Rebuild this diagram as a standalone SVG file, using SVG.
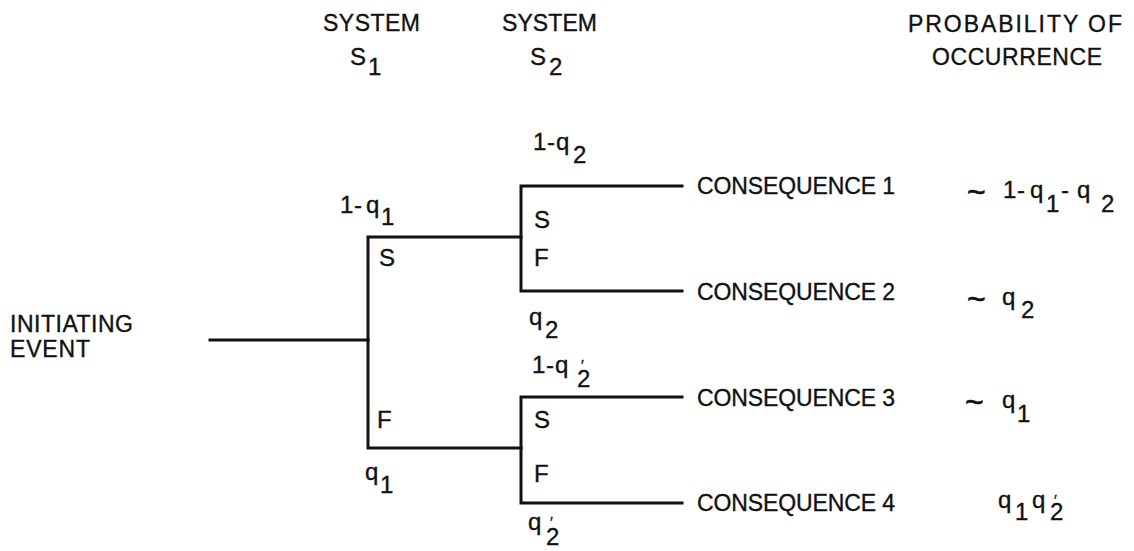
<svg xmlns="http://www.w3.org/2000/svg" width="1134" height="551" viewBox="0 0 1134 551">
  <style>
    .t { font-family: "Liberation Sans", Arial, sans-serif; font-size: 23px; fill: #111; stroke: #111; stroke-width: 0.35; }
    .m { font-size: 24px; }
    .hd { font-size: 24px; }
    .tl { font-family: "Liberation Sans", Arial, sans-serif; font-size: 32px; fill: #111; stroke: #111; stroke-width: 0.6; }
    .pr { font-size: 15px; }
    .ln { stroke: #111; stroke-width: 3; fill: none; stroke-linecap: square; stroke-linejoin: miter; }
  </style>
  <rect width="1134" height="551" fill="#fff"/>

  <!-- column headings -->
  <g id="header-s1">
    <text class="t" x="323" y="31" textLength="97" lengthAdjust="spacing">SYSTEM</text>
    <text class="t hd" x="350" y="65">S<tspan x="368" dy="10">1</tspan></text>
  </g>
  <g id="header-s2">
    <text class="t" x="502" y="31" textLength="95" lengthAdjust="spacing">SYSTEM</text>
    <text class="t hd" x="530" y="65">S<tspan x="549" dy="10">2</tspan></text>
  </g>
  <g id="header-probability">
    <text class="t" x="908" y="32" textLength="214" lengthAdjust="spacing">PROBABILITY  OF</text>
    <text class="t" x="932" y="65" textLength="170" lengthAdjust="spacing">OCCURRENCE</text>
  </g>

  <!-- connectors: event line and branch forks -->
  <g id="connectors">
    <path class="ln" d="M210,340 H368"/>
    <path class="ln" d="M521,237 H368 V448 H521"/>
    <path class="ln" d="M682,186 H521 V291 H682"/>
    <path class="ln" d="M682,397 H521 V503 H682"/>
  </g>

  <g id="initiating-event">
    <text class="t" x="10" y="332" textLength="123" lengthAdjust="spacing">INITIATING</text>
    <text class="t" x="10" y="357" textLength="80" lengthAdjust="spacing">EVENT</text>
  </g>

  <!-- branch labels for system S1 -->
  <g id="system-s1">
    <text class="t m" y="213"><tspan x="340">1</tspan><tspan x="354">-</tspan><tspan x="366">q</tspan><tspan x="381" dy="12">1</tspan></text>
    <text class="t m" x="379" y="266">S</text>
    <text class="t m" x="377" y="428">F</text>
    <text class="t m" y="480"><tspan x="365">q</tspan><tspan x="380" dy="13">1</tspan></text>
  </g>

  <!-- branch labels for system S2, upper fork -->
  <g id="system-s2-upper">
    <text class="t m" y="150"><tspan x="533">1</tspan><tspan x="547">-</tspan><tspan x="556">q</tspan><tspan x="573" dy="13">2</tspan></text>
    <text class="t m" x="534" y="228">S</text>
    <text class="t m" x="534" y="266">F</text>
    <text class="t m" y="325"><tspan x="529">q</tspan><tspan x="545" dy="13">2</tspan></text>
  </g>

  <!-- branch labels for system S2, lower fork (primed probabilities) -->
  <g id="system-s2-lower">
    <text class="t m" y="373"><tspan x="532">1</tspan><tspan x="546">-</tspan><tspan x="555">q</tspan><tspan x="577" dy="14">2</tspan><tspan class="pr" x="581" dy="-17">′</tspan></text>
    <text class="t m" x="534" y="428">S</text>
    <text class="t m" x="534" y="482">F</text>
    <text class="t m" y="530"><tspan x="528">q</tspan><tspan x="546" dy="15">2</tspan><tspan class="pr" x="550" dy="-18">′</tspan></text>
  </g>

  <!-- outcomes and their probabilities -->
  <g id="consequence-1">
    <text class="t" x="697" y="194" textLength="198" lengthAdjust="spacing">CONSEQUENCE 1</text>
    <text class="tl" x="967" y="203">~</text>
    <text class="t m" y="198"><tspan x="1003">1</tspan><tspan x="1017">-</tspan><tspan x="1030">q</tspan><tspan x="1046" dy="14">1</tspan><tspan x="1061" dy="-14">-</tspan><tspan x="1077">q</tspan><tspan x="1101" dy="14">2</tspan></text>
  </g>
  <g id="consequence-2">
    <text class="t" x="697" y="300" textLength="198" lengthAdjust="spacing">CONSEQUENCE 2</text>
    <text class="tl" x="967" y="310">~</text>
    <text class="t m" y="305"><tspan x="1002">q</tspan><tspan x="1021" dy="13">2</tspan></text>
  </g>
  <g id="consequence-3">
    <text class="t" x="697" y="406" textLength="198" lengthAdjust="spacing">CONSEQUENCE 3</text>
    <text class="tl" x="965" y="413">~</text>
    <text class="t m" y="408"><tspan x="1002">q</tspan><tspan x="1017" dy="14">1</tspan></text>
  </g>
  <g id="consequence-4">
    <text class="t" x="697" y="511" textLength="198" lengthAdjust="spacing">CONSEQUENCE 4</text>
    <text class="t m" y="508"><tspan x="998">q</tspan><tspan x="1015" dy="12">1</tspan><tspan x="1032" dy="-12">q</tspan><tspan x="1050" dy="12">2</tspan><tspan class="pr" x="1054" dy="-15">′</tspan></text>
  </g>
</svg>
